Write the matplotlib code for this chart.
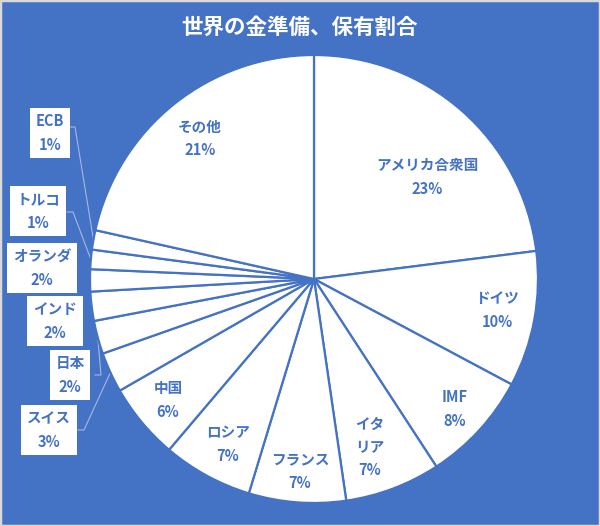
import matplotlib.pyplot as plt
from matplotlib.patches import Rectangle
import numpy as np

plt.rcParams['font.family'] = ['Noto Sans CJK JP', 'DejaVu Sans']

# data (share of world gold reserves, %)
names = ['アメリカ合衆国', 'ドイツ', 'IMF', 'イタリア', 'フランス', 'ロシア', '中国',
         'スイス', '日本', 'インド', 'オランダ', 'トルコ', 'ECB', 'その他']
shares = [23.0, 9.8, 8.0, 6.9, 7.0, 6.5, 5.5, 2.9, 2.4, 2.1, 1.6, 1.4, 1.4, 21.5]
pct_labels = [23, 10, 8, 7, 7, 7, 6, 3, 2, 2, 2, 1, 1, 21]
label_text = ['アメリカ合衆国', 'ドイツ', 'IMF', 'イタ\nリア', 'フランス', 'ロシア', '中国',
              'スイス', '日本', 'インド', 'オランダ', 'トルコ', 'ECB', 'その他']

blue = '#4472C4'
H = 526

fig = plt.figure(figsize=(6, 5.26), dpi=100, facecolor=blue)
ax = fig.add_axes([0, 0, 1, 1])
ax.set_xlim(0, 600)
ax.set_ylim(0, H)
ax.set_aspect('equal')
ax.axis('off')

cx, cy, R = 314, H - 279, 224
wedges, _ = ax.pie(shares, center=(cx, cy), radius=R, startangle=90, counterclock=False,
                   colors=['white'] * len(shares),
                   wedgeprops=dict(edgecolor=blue, linewidth=1.6))
ax.set_xlim(0, 600)
ax.set_ylim(0, H)

# label positions in pixels (inside labels)
inside_pos = {
    'アメリカ合衆国': (427, 177), 'ドイツ': (497, 310), 'IMF': (455, 409),
    'イタリア': (370, 447), 'フランス': (300, 471), 'ロシア': (228, 444),
    '中国': (168, 400), 'その他': (200, 138),
}
# outside boxed labels: center and leader anchor (None = no leader line)
box_pos = {
    'ECB': ((50, 133), (69, 127)), 'トルコ': ((38, 211), (67, 212)),
    'オランダ': ((42, 268), None), 'インド': ((55, 321), None),
    '日本': ((70, 375), (95, 375)), 'スイス': ((49, 430), (78, 430)),
}

for w, name, txt, p in zip(wedges, names, label_text, pct_labels):
    label = f'{txt}\n{p}%'
    if name in inside_pos:
        x, y = inside_pos[name]
        ax.text(x, H - y, label, ha='center', va='center', color=blue,
                fontsize=10.5, fontweight='bold', linespacing=1.55)
    else:
        (bx, by), anchor = box_pos[name]
        ax.text(bx, H - by, label, ha='center', va='center', color=blue,
                fontsize=10.5, fontweight='bold', linespacing=1.55,
                bbox=dict(boxstyle='square,pad=0.4', fc='white', ec='none'))
        if anchor is None:
            continue
        ax0, ay0 = anchor
        mid = np.deg2rad((w.theta1 + w.theta2) / 2)
        ex = cx + R * np.cos(mid)
        ey = cy + R * np.sin(mid)
        ax.plot([ax0, ax0 + 6, ex], [H - ay0, H - ay0, ey], color='#A6B8E0', lw=0.8,
                zorder=0.5)

ax.text(300, H - 27, '世界の金準備、保有割合', ha='center', va='center', color='white',
        fontsize=15.5, fontweight='bold')

fig.patches.append(Rectangle((0, 0), 1, 1, transform=fig.transFigure, fill=False,
                             ec='#D9D9D9', lw=2.5))

fig.savefig('out.png', dpi=100, facecolor=blue)
